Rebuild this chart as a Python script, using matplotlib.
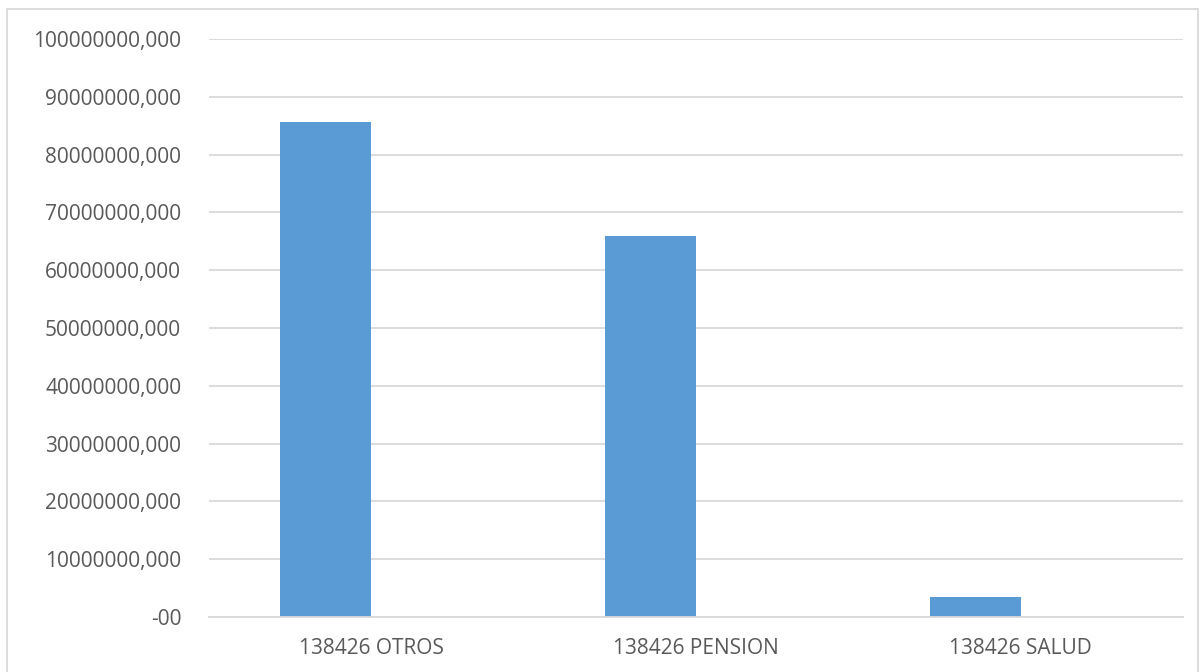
"""Bar chart of 138426 totals (OTROS / PENSION / SALUD), Excel style."""

import matplotlib

matplotlib.use("Agg")
import matplotlib.pyplot as plt
from matplotlib.patches import Rectangle
from matplotlib.ticker import FuncFormatter, MultipleLocator

categories = ["138426 OTROS", "138426 PENSION", "138426 SALUD"]
values = [85_700_000, 65_900_000, 3_550_000]

BAR_COLOR = "#5B9BD5"
TEXT_COLOR = "#595959"
GRID_COLOR = "#D9D9D9"


def fmt(v, _pos):
    # Excel accounting format: zero shows as "-00"
    if abs(v) < 1:
        return "-00"
    return f"{int(round(v))},000"


fig = plt.figure(figsize=(11.99, 6.72), dpi=100)
ax = fig.add_axes([0.1743, 0.0818, 0.8124, 0.8602])

x = list(range(len(categories)))
# second (empty) series sits to the right, so the drawn bar ends at the category centre
ax.bar(x, values, width=-0.28, align="edge", color=BAR_COLOR, zorder=2)

ax.set_xlim(-0.5, len(categories) - 0.5)
ax.set_ylim(0, 100_000_000)
ax.yaxis.set_major_locator(MultipleLocator(10_000_000))
ax.yaxis.set_major_formatter(FuncFormatter(fmt))
ax.set_xticks(x)
ax.set_xticklabels(categories)

ax.grid(axis="y", color=GRID_COLOR, linewidth=1.3, zorder=0)
ax.set_axisbelow(True)
for side in ("top", "right", "left"):
    ax.spines[side].set_visible(False)
ax.spines["bottom"].set_color(GRID_COLOR)
ax.spines["bottom"].set_linewidth(1.3)
ax.tick_params(axis="both", length=0, colors=TEXT_COLOR, labelsize=15)
ax.tick_params(axis="y", pad=20)
ax.tick_params(axis="x", pad=15)
for lbl in ax.get_xticklabels() + ax.get_yticklabels():
    lbl.set_fontfamily("Open Sans")

# outer chart border
fig.patches.append(
    Rectangle((7 / 1199, -0.01), 1191 / 1199, 1 - 9 / 672 + 0.01,
              transform=fig.transFigure, fill=False, edgecolor=GRID_COLOR, linewidth=1.3)
)

fig.savefig("out.png", dpi=100)
